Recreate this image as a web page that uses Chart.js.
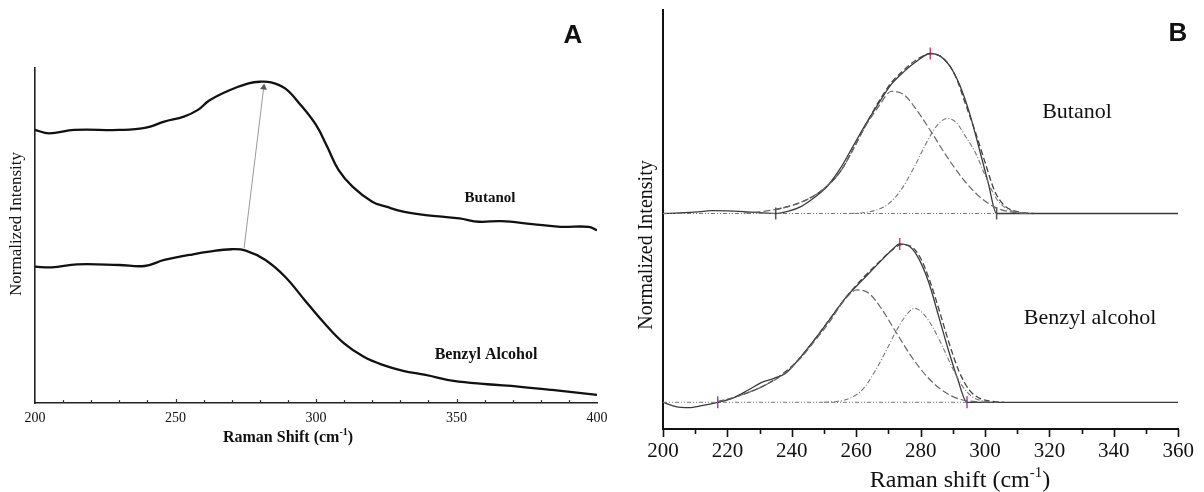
<!DOCTYPE html>
<html><head><meta charset="utf-8">
<script src="https://cdn.jsdelivr.net/npm/chart.js@4.4.1/dist/chart.umd.min.js"></script>
<style>
html,body{margin:0;padding:0;background:#fff;}
#wrap{position:relative;width:1204px;height:492px;overflow:hidden;background:#fff;}
#ca{position:absolute;left:0;top:0;}
#cb{position:absolute;left:620px;top:0;}
</style></head><body>
<div id="wrap"><canvas id="ca" width="640" height="492"></canvas><canvas id="cb" width="584" height="492"></canvas></div>
<script>
// ---------- Panel A data (Raman shift, normalized intensity) ----------
const aButanolX = [200, 205, 214, 230, 238, 241, 246, 253, 258, 262, 269, 276, 280, 284, 289, 294, 300, 304, 308, 313, 320, 325, 331, 339, 351, 358, 366, 377, 387, 397, 400];
const aButanolY = [0.815, 0.805, 0.815, 0.815, 0.82, 0.825, 0.84, 0.855, 0.875, 0.903, 0.933, 0.954, 0.959, 0.957, 0.939, 0.895, 0.83, 0.765, 0.696, 0.646, 0.601, 0.586, 0.571, 0.561, 0.551, 0.541, 0.543, 0.534, 0.526, 0.526, 0.516];
const aBenzylX = [200, 206, 215, 230, 239, 246, 255, 262, 270, 275, 282, 289, 296, 303, 310, 317, 324, 331, 339, 349, 361, 372, 384, 400];
const aBenzylY = [0.407, 0.405, 0.414, 0.412, 0.409, 0.427, 0.442, 0.452, 0.459, 0.455, 0.427, 0.377, 0.307, 0.238, 0.178, 0.138, 0.113, 0.096, 0.084, 0.066, 0.056, 0.049, 0.039, 0.024];
const aArrowX = [274.4, 281.4];
const aArrowY = [0.462, 0.942];
const aTickLabels = [200, 250, 300, 350, 400];

// ---------- Panel B data (fits) ----------
const butanolOffset = 1.18;
const bButObsX = [200, 205, 211, 215, 220, 226, 231, 235, 239, 243, 247, 251, 255, 259, 263, 267, 271, 275, 279, 283, 286, 289, 292, 295, 298, 301, 303.6, 320, 360];
const bButObsY = [0, 0.003, 0.01, 0.018, 0.016, 0.01, 0.004, 0, 0.015, 0.045, 0.1, 0.17, 0.28, 0.42, 0.56, 0.69, 0.81, 0.89, 0.955, 1.0, 0.985, 0.925, 0.81, 0.64, 0.42, 0.19, 0, 0, 0];
const bButFitX = [235, 240, 245, 250, 255, 259, 263, 267, 271, 275, 279, 283.5, 288, 291, 294, 297, 300, 303, 306, 310, 315];
const bButFitY = [0.025, 0.05, 0.09, 0.155, 0.26, 0.40, 0.555, 0.70, 0.82, 0.90, 0.965, 1.0, 0.95, 0.85, 0.68, 0.51, 0.32, 0.14, 0.05, 0.012, 0];
const bButC1X = [225, 230, 235, 240, 245, 250, 255, 259, 263, 267, 271, 275, 279, 283.5, 288, 293, 298, 303, 308, 313];
const bButC1Y = [0.003, 0.01, 0.025, 0.05, 0.09, 0.155, 0.26, 0.40, 0.55, 0.67, 0.764, 0.74, 0.64, 0.504, 0.36, 0.22, 0.11, 0.04, 0.01, 0];
const bButC2X = [258, 262, 266, 270, 274, 278, 281, 283.5, 286, 288.3, 291, 294, 297, 300, 303, 306, 310, 314];
const bButC2Y = [0, 0.005, 0.02, 0.06, 0.15, 0.29, 0.41, 0.504, 0.57, 0.594, 0.57, 0.48, 0.38, 0.24, 0.11, 0.04, 0.008, 0];
const bButBaseX = [200, 303.6];
const bButBaseY = [0, 0];
const bButMarkX = [235, 283, 303.6];
const bButMarkY = [0, 1.0, 0];
const bButMarkColor = ['#555555', '#d0406a', '#555555'];

const bBenObsX = [200, 204, 208, 212, 217, 221.5, 226.5, 230.5, 234.5, 238, 242, 247, 252, 257, 262, 267, 271, 273.5, 276.5, 279.5, 282.5, 285.5, 288.5, 291.5, 294.4, 310, 360];
const bBenObsY = [0, -0.027, -0.033, -0.021, 0, 0.025, 0.077, 0.123, 0.15, 0.18, 0.265, 0.39, 0.525, 0.66, 0.765, 0.87, 0.95, 0.99, 0.975, 0.895, 0.75, 0.545, 0.335, 0.145, 0, 0, 0];
const bBenFitX = [217, 222, 227, 232, 237, 242, 247, 252, 257, 262, 267, 271, 274, 277, 280, 283, 286, 289, 292, 295, 298, 302, 306];
const bBenFitY = [0, 0.03, 0.065, 0.11, 0.175, 0.265, 0.39, 0.525, 0.66, 0.775, 0.875, 0.95, 0.985, 0.975, 0.9, 0.75, 0.56, 0.36, 0.19, 0.08, 0.028, 0.006, 0];
const bBenC1X = [217, 222, 227, 232, 237, 242, 247, 252, 256, 260.2, 264, 268, 272, 277, 282, 287, 292, 297, 302];
const bBenC1Y = [0.005, 0.03, 0.065, 0.11, 0.17, 0.26, 0.38, 0.51, 0.63, 0.702, 0.68, 0.58, 0.45, 0.29, 0.16, 0.07, 0.02, 0.004, 0];
const bBenC2X = [250, 254, 258, 262, 266, 270, 272, 275, 278.1, 281, 284, 287, 290, 293, 296, 300, 304];
const bBenC2Y = [0, 0.005, 0.025, 0.08, 0.2, 0.35, 0.43, 0.53, 0.5875, 0.55, 0.46, 0.34, 0.21, 0.10, 0.035, 0.006, 0];
const bBenBaseX = [200, 294.4];
const bBenBaseY = [0, 0];
const bBenMarkX = [217, 273.5, 294.4];
const bBenMarkY = [0, 0.99, 0];
const bBenMarkColor = ['#b03ab8', '#d0406a', '#b03ab8'];
const bTickLabels = [200, 220, 240, 260, 280, 300, 320, 340, 360];

// ---------- helpers ----------
const pts = (xs, ys, off = 0) => xs.map((x, i) => ({x: x, y: ys[i] + off}));
const SERIF = "'Liberation Serif','Times New Roman',serif";
const SANS = "'Liberation Sans',Arial,sans-serif";

function supText(c, base, sup, tail, cx, cy, size, weight) {
  const f = (weight ? weight + ' ' : '') + size + 'px ' + SERIF;
  const fs = (weight ? weight + ' ' : '') + Math.round(size * 0.62) + 'px ' + SERIF;
  c.font = f; const w1 = c.measureText(base).width; const w3 = c.measureText(tail).width;
  c.font = fs; const w2 = c.measureText(sup).width;
  let x = cx - (w1 + w2 + w3) / 2;
  c.textAlign = 'left'; c.textBaseline = 'middle';
  c.font = f; c.fillText(base, x, cy); x += w1;
  c.font = fs; c.fillText(sup, x, cy - size * 0.33); x += w2;
  c.font = f; c.fillText(tail, x, cy);
}
function vText(c, txt, cx, cy, font) {
  c.save(); c.translate(cx, cy); c.rotate(-Math.PI / 2);
  c.font = font; c.textAlign = 'center'; c.textBaseline = 'middle';
  c.fillText(txt, 0, 0); c.restore();
}
function cText(c, txt, cx, cy, font) {
  c.font = font; c.textAlign = 'center'; c.textBaseline = 'middle'; c.fillText(txt, cx, cy);
}

// ---------- Panel A ----------
const plugA = {
  id: 'plugA',
  afterDraw(chart) {
    const c = chart.ctx, xs = chart.scales.x, a = chart.chartArea;
    c.save();
    c.strokeStyle = '#333'; c.lineWidth = 1.2;
    for (let v = 210; v < 400; v += 10) {
      const px = Math.round(xs.getPixelForValue(v)) + 0.5;
      const len = (v % 50 === 0) ? 4 : 3;
      c.beginPath(); c.moveTo(px, a.bottom); c.lineTo(px, a.bottom - len); c.stroke();
    }
    c.fillStyle = '#111';
    vText(c, 'Normalized Intensity', 17, 224, '17px ' + SERIF);
    supText(c, 'Raman Shift (cm', '-1', ')', 288, 438, 16, 'bold');
    cText(c, 'Butanol', 490, 198, 'bold 15px ' + SERIF);
    cText(c, 'Benzyl Alcohol', 486, 355, 'bold 16px ' + SERIF);
    cText(c, 'A', 573, 36, 'bold 26px ' + SANS);
    c.restore();
  }
};

new Chart(document.getElementById('ca'), {
  type: 'line',
  data: {datasets: [
    {label: 'Butanol', data: pts(aButanolX, aButanolY), borderColor: '#111', borderWidth: 2.3, pointRadius: 0, tension: 0.4},
    {label: 'Benzyl Alcohol', data: pts(aBenzylX, aBenzylY), borderColor: '#111', borderWidth: 2.3, pointRadius: 0, tension: 0.4},
    {label: 'shift', data: pts(aArrowX, aArrowY), borderColor: '#9a9a9a', borderWidth: 1, tension: 0,
     pointRadius: [0, 3.5], pointStyle: 'triangle', pointRotation: 7, pointBackgroundColor: '#555', pointBorderColor: '#555', pointBorderWidth: 0.5}
  ]},
  options: {
    responsive: false, animation: false, events: [],
    layout: {padding: {left: 0, right: 43, top: 68, bottom: 0}},
    plugins: {legend: {display: false}, tooltip: {enabled: false}},
    scales: {
      x: {type: 'linear', min: 200, max: 400,
          afterBuildTicks: s => { s.ticks = aTickLabels.map(v => ({value: v})); },
          afterFit: s => { s.height = 89; },
          grid: {display: false, drawTicks: false},
          border: {display: true, color: '#222', width: 1.6},
          ticks: {padding: 7, color: '#111', font: {family: SERIF, size: 14}, maxRotation: 0, autoSkip: false}},
      y: {type: 'linear', min: 0, max: 1,
          afterFit: s => { s.width = 35; },
          grid: {display: false, drawTicks: false},
          border: {display: true, color: '#222', width: 1.6},
          ticks: {display: false}}
    }
  },
  plugins: [plugA]
});

// ---------- Panel B ----------
const plugB = {
  id: 'plugB',
  afterDraw(chart) {
    const c = chart.ctx, xs = chart.scales.x, a = chart.chartArea;
    c.save();
    c.strokeStyle = '#111'; c.lineWidth = 1.6;
    for (let v = 200; v <= 360; v += 10) {
      const px = Math.round(xs.getPixelForValue(v)) + 0.5;
      const len = (v % 20 === 0) ? 8 : 5;
      c.beginPath(); c.moveTo(px, a.bottom); c.lineTo(px, a.bottom + len); c.stroke();
    }
    c.fillStyle = '#111';
    vText(c, 'Normalized Intensity', 27, 245, '20px ' + SERIF);
    supText(c, 'Raman shift (cm', '-1', ')', 340, 481, 24, '');
    cText(c, 'Butanol', 457, 112, '22px ' + SERIF);
    cText(c, 'Benzyl alcohol', 470, 318, '22px ' + SERIF);
    cText(c, 'B', 558, 34, 'bold 26px ' + SANS);
    c.restore();
  }
};

const lineDs = (label, d, color, width, dash) => ({label: label, data: d, borderColor: color, borderWidth: width, borderDash: dash, pointRadius: 0, cubicInterpolationMode: 'monotone'});
const markDs = (label, d, colors) => ({label: label, data: d, showLine: false, pointStyle: 'line', pointRotation: 90, pointRadius: 6, borderColor: colors, pointBorderColor: colors, pointBorderWidth: 1.5, borderWidth: 1.5});

new Chart(document.getElementById('cb'), {
  type: 'line',
  data: {datasets: [
    lineDs('Butanol baseline', pts(bButBaseX, bButBaseY, butanolOffset), '#777', 1, [4, 2, 1, 2, 1, 2]),
    lineDs('Butanol peak 1', pts(bButC1X, bButC1Y, butanolOffset), '#666', 1.2, [7, 3]),
    lineDs('Butanol peak 2', pts(bButC2X, bButC2Y, butanolOffset), '#777', 1.1, [5, 2, 1, 2]),
    lineDs('Butanol fit', pts(bButFitX, bButFitY, butanolOffset), '#444', 1.3, [6, 3]),
    lineDs('Butanol', pts(bButObsX, bButObsY, butanolOffset), '#3a3a3a', 1.3, []),
    markDs('Butanol marks', pts(bButMarkX, bButMarkY, butanolOffset), bButMarkColor),
    lineDs('Benzyl baseline', pts(bBenBaseX, bBenBaseY), '#777', 1, [4, 2, 1, 2, 1, 2]),
    lineDs('Benzyl peak 1', pts(bBenC1X, bBenC1Y), '#666', 1.2, [7, 3]),
    lineDs('Benzyl peak 2', pts(bBenC2X, bBenC2Y), '#777', 1.1, [5, 2, 1, 2]),
    lineDs('Benzyl fit', pts(bBenFitX, bBenFitY), '#444', 1.3, [6, 3]),
    lineDs('Benzyl alcohol', pts(bBenObsX, bBenObsY), '#3a3a3a', 1.3, []),
    markDs('Benzyl marks', pts(bBenMarkX, bBenMarkY), bBenMarkColor)
  ]},
  options: {
    responsive: false, animation: false, events: [],
    layout: {padding: {left: 0, right: 18, top: 10, bottom: 0}},
    plugins: {legend: {display: false}, tooltip: {enabled: false}},
    scales: {
      x: {type: 'linear', min: 200, max: 360,
          afterBuildTicks: s => { s.ticks = bTickLabels.map(v => ({value: v})); },
          afterFit: s => { s.height = 63; },
          grid: {display: false, drawTicks: false},
          border: {display: true, color: '#111', width: 2},
          ticks: {padding: 10, color: '#111', font: {family: SERIF, size: 21}, maxRotation: 0, autoSkip: false}},
      y: {type: 'linear', min: -0.167, max: 2.452,
          afterFit: s => { s.width = 43; },
          grid: {display: false, drawTicks: false},
          border: {display: true, color: '#111', width: 2},
          ticks: {display: false}}
    }
  },
  plugins: [plugB]
});
</script>
</body></html>
